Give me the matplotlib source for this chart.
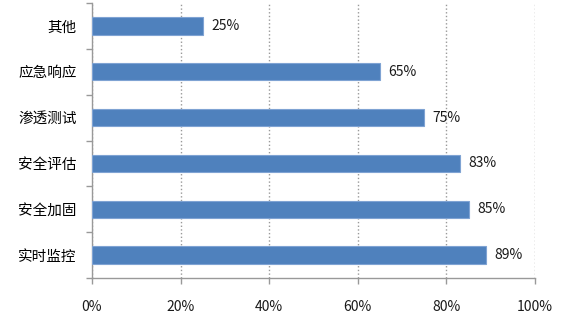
import matplotlib
matplotlib.use('Agg')
from matplotlib import pyplot as plt
import numpy as np

plt.rcParams['font.family'] = ['Noto Sans CJK SC', 'DejaVu Sans']

categories = ['实时监控', '安全加固', '安全评估', '渗透测试', '应急响应', '其他']
values = [89, 85, 83, 75, 65, 25]
xticks = [0, 20, 40, 60, 80, 100]
xtick_labels = ['0%', '20%', '40%', '60%', '80%', '100%']

fig = plt.figure(figsize=(5.77, 3.22), dpi=100)
ax = fig.add_axes([0.1594, 0.1366, 0.9272 - 0.1594, 0.9907 - 0.1366])

y = np.arange(len(categories))
ax.barh(y, values, height=0.38, color='#4F81BD', edgecolor='#7FA3D3', linewidth=0.8, zorder=3)

# data labels at bar ends
for yi, v in zip(y, values):
    ax.text(v + 1.9, yi, f'{v}%', va='center', ha='left', fontsize=10, color='#1a1a1a')

ax.set_xlim(0, 100)
ax.set_ylim(-0.5, len(categories) - 0.5)

ax.set_xticks(xticks)
ax.set_xticklabels(xtick_labels, fontsize=10, color='#1a1a1a')
ax.set_yticks(y)
ax.set_yticklabels(categories, fontsize=10.5, color='#000000', fontweight='medium')
ax.tick_params(axis='y', length=0, pad=11)
ax.set_yticks(np.arange(-0.5, len(categories)), minor=True)
ax.tick_params(axis='y', which='minor', length=4, color='#999999', width=1)
ax.tick_params(axis='x', length=4, color='#999999', width=1, pad=12)

ax.grid(axis='x', linestyle=':', color='#999999', linewidth=1, zorder=0)

for s in ['top', 'right']:
    ax.spines[s].set_visible(False)
for s in ['left', 'bottom']:
    ax.spines[s].set_color('#999999')
    ax.spines[s].set_linewidth(1)

fig.savefig('out.png', dpi=100)
